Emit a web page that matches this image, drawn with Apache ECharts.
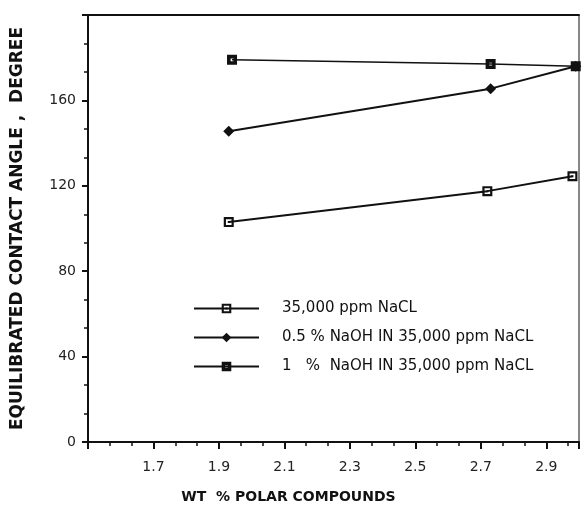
<!DOCTYPE html>
<html>
<head>
<meta charset="utf-8">
<script src="https://cdn.jsdelivr.net/npm/echarts@6/dist/echarts.min.js"></script>
<style>
  html, body { margin: 0; padding: 0; background: #ffffff; }
  #chart { width: 584px; height: 523px; }
</style>
</head>
<body>
<div id="chart"></div>
<script>
  // data
  var seriesNames = ['35,000 ppm NaCL', '0.5 % NaOH IN 35,000 ppm NaCL', '1   %  NaOH IN 35,000 ppm NaCL'];
  var naclX = [1.93, 2.72, 2.98];
  var naclY = [103, 117.5, 124.5];
  var naoh05X = [1.93, 2.73, 2.99];
  var naoh05Y = [145.5, 165.5, 176];
  var naoh1X = [1.94, 2.73, 2.99];
  var naoh1Y = [179, 177, 176];

  function pairs(xs, ys) {
    return xs.map(function (x, i) { return [x, ys[i]]; });
  }

  // square with dot in middle, and square with small hole
  var dotSquare = 'path://M0,0H10V10H0Z M2.2,2.2V7.8H7.8V2.2Z M4,4H6V6H4Z';
  var boldSquare = 'path://M0,0H10V10H0Z M3.6,3.6V6.4H6.4V3.6Z';

  var font = 'DejaVu Sans, Liberation Sans, sans-serif';
  var chart = echarts.init(document.getElementById('chart'));

  var option = {
    animation: false,
    backgroundColor: '#ffffff',
    textStyle: { fontFamily: font },
    grid: {
      left: 88, right: 5, top: 15, bottom: 81,
      show: true, borderColor: '#111', borderWidth: 1
    },
    legend: {
      orient: 'vertical',
      left: 188, top: 296,
      itemWidth: 65, itemHeight: 12,
      itemGap: 14,
      data: seriesNames,
      textStyle: { fontFamily: font, fontSize: 15, color: '#111', padding: [0, 0, 0, 18] }
    },
    xAxis: [{
      type: 'value',
      min: 1.5, max: 3.0, interval: 0.2,
      name: 'WT  % POLAR COMPOUNDS',
      nameLocation: 'middle',
      nameGap: 48,
      nameTextStyle: { fontFamily: font, fontSize: 14, fontWeight: 'bold', color: '#111', padding: [0, 90, 0, 0] },
      axisLine: { lineStyle: { color: '#111', width: 2 } },
      axisTick: { show: true, length: 7, lineStyle: { color: '#111', width: 2 } },
      minorTick: { show: true, splitNumber: 3, length: 4, lineStyle: { color: '#111', width: 1.5 } },
      splitLine: { show: false },
      axisLabel: {
        showMinLabel: false, showMaxLabel: false,
        margin: 18, fontSize: 14, color: '#222',
        formatter: function (v) { return v.toFixed(1); }
      }
    }, {
      // heavy frame line along the top
      type: 'value', position: 'top',
      min: 1.5, max: 3.0,
      axisLine: { lineStyle: { color: '#111', width: 2 } },
      axisTick: { show: false },
      axisLabel: { show: false },
      splitLine: { show: false }
    }],
    yAxis: {
      type: 'value',
      min: 0, max: 200, interval: 40,
      name: 'EQUILIBRATED CONTACT ANGLE ,  DEGREE',
      nameLocation: 'middle',
      nameGap: 62,
      nameTextStyle: { fontFamily: font, fontSize: 17, fontWeight: 'bold', color: '#111' },
      axisLine: { lineStyle: { color: '#111', width: 2 } },
      axisTick: { show: true, length: 6, lineStyle: { color: '#111', width: 2 } },
      minorTick: { show: true, splitNumber: 3, length: 4, lineStyle: { color: '#111', width: 1.5 } },
      splitLine: { show: false },
      axisLabel: {
        margin: 12, fontSize: 14, color: '#222',
        formatter: function (v) { return v === 200 ? '' : v; }
      }
    },
    series: [
      {
        name: seriesNames[0],
        type: 'line',
        data: pairs(naclX, naclY),
        symbol: dotSquare, symbolSize: 10,
        itemStyle: { color: '#111' },
        lineStyle: { color: '#111', width: 2 }
      },
      {
        name: seriesNames[1],
        type: 'line',
        data: pairs(naoh05X, naoh05Y),
        symbol: 'diamond', symbolSize: 11,
        itemStyle: { color: '#111' },
        lineStyle: { color: '#111', width: 2 }
      },
      {
        name: seriesNames[2],
        type: 'line',
        data: pairs(naoh1X, naoh1Y),
        symbol: boldSquare, symbolSize: 10,
        itemStyle: { color: '#111' },
        lineStyle: { color: '#111', width: 1.5 }
      }
    ]
  };

  chart.setOption(option);
</script>
</body>
</html>
